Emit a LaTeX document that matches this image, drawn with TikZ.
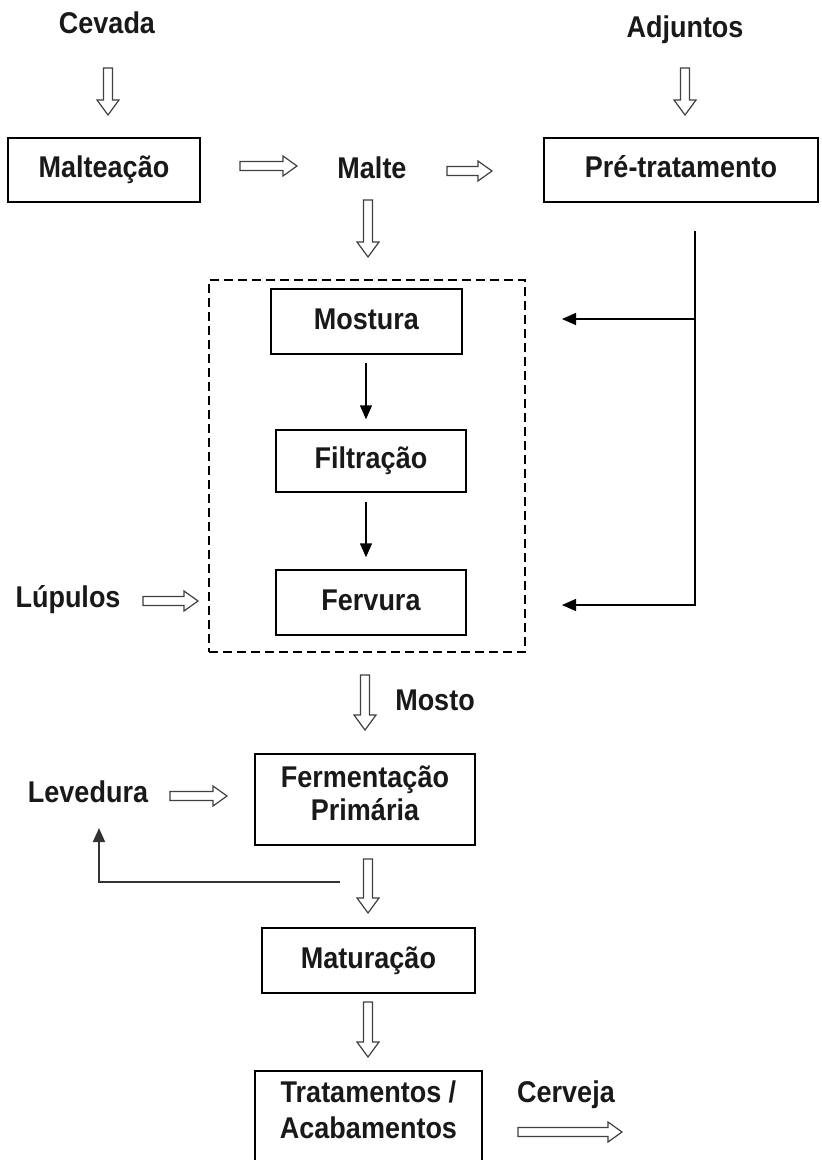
\documentclass[tikz,border=0pt]{standalone}
\usepackage{fontspec}
\setmainfont{Liberation Sans}[FakeStretch=0.9]
\usetikzlibrary{arrows.meta,calc}
\newcommand\hollowdn[2]{\draw[hollow] ($(#1)+(-4.5,0)$) -- ($(#1)+(4.5,0)$) -- ($(#2)+(4.5,-15)$) -- ($(#2)+(11,-15)$) -- (#2) -- ($(#2)+(-11,-15)$) -- ($(#2)+(-4.5,-15)$) -- cycle;}
\newcommand\hollowrt[2]{\draw[hollow] ($(#1)+(0,-4.5)$) -- ($(#2)+(-14,-4.5)$) -- ($(#2)+(-14,-10)$) -- (#2) -- ($(#2)+(-14,10)$) -- ($(#2)+(-14,4.5)$) -- ($(#1)+(0,4.5)$) -- cycle;}
\begin{document}
\begin{tikzpicture}[x=1pt,y=-1pt,
  every node/.style={font=\bfseries\fontsize{30}{33}\selectfont, text=black!90},
  box/.style={draw=black, line width=1.5pt, inner sep=0pt, text height=21pt, text depth=6pt, align=center},
  boxtwo/.style={draw=black, line width=1.5pt, inner xsep=0pt, inner ysep=10pt, align=center, anchor=north},
  lbl/.style={anchor=base, inner sep=0pt},
  hollow/.style={draw=black!75, line width=1.2pt, fill=white, line join=miter},
  thinarrow/.style={draw=black, line width=1.5pt, -{Triangle[width=12pt,length=14pt]}},
  mashbox/.style={draw=black, line width=1.5pt, dash pattern=on 9pt off 5pt, inner sep=0pt},
]
\clip (0,0) rectangle (822,1160);
\fill[white] (0,0) rectangle (822,1160);

% boxes
\node[box, minimum width=192, minimum height=64] (malt) at (104,170) {Malteação};
\node[box, minimum width=274, minimum height=64] (pre) at (681,170) {Pré-tratamento};
\node[mashbox, minimum width=316, minimum height=372] (mash) at (367,466) {};
\node[box, minimum width=191, minimum height=65] (most) at (366.5,321.5) {Mostura};
\node[box, minimum width=190, minimum height=62] (filt) at (371,461) {Filtração};
\node[box, minimum width=190, minimum height=65] (ferv) at (371,602.5) {Fervura};
\node[boxtwo, minimum width=220] (ferm) at (365,753) {\rule{0pt}{24pt}Fermentação\\Primária\rule[-14pt]{0pt}{14pt}};
\node[box, minimum width=213, minimum height=65] (matu) at (368.5,960.5) {Maturação};
\node[boxtwo, minimum width=227] (trat) at (368.5,1070) {\rule{0pt}{22pt}Tratamentos /\\[3pt]Acabamentos\rule[-30pt]{0pt}{30pt}};

% labels
\node[lbl] (cevada) at (107,33) {Cevada};
\node[lbl] (adj) at (685,37) {Adjuntos};
\node[lbl] (malte) at (372,178) {Malte};
\node[lbl] (lup) at (68,607) {Lúpulos};
\node[lbl] (mosto) at (435,710) {Mosto};
\node[lbl] (lev) at (88,802) {Levedura};
\node[lbl] (cerv) at (566,1102) {Cerveja};

% hollow arrows
\coordinate (c1) at (108,68);  \coordinate (c2) at (108,115);
\coordinate (d1) at (685,68);  \coordinate (d2) at (685,115);
\coordinate (m1) at (240,166); \coordinate (m2) at (297,166);
\coordinate (p1) at (447,171); \coordinate (p2) at (492,171);
\coordinate (md1) at (368,200); \coordinate (md2) at (368,257);
\coordinate (l1) at (143,601); \coordinate (l2) at (198,601);
\coordinate (o1) at (365,675); \coordinate (o2) at (365,730);
\coordinate (v1) at (170,796); \coordinate (v2) at (227,796);
\coordinate (f1) at (368,859); \coordinate (f2) at (368,913);
\coordinate (t1) at (368,1002); \coordinate (t2) at (368,1057);
\coordinate (b1) at (518,1132); \coordinate (b2) at (622,1132);
\hollowdn{c1}{c2}
\hollowdn{d1}{d2}
\hollowrt{m1}{m2}
\hollowrt{p1}{p2}
\hollowdn{md1}{md2}
\hollowrt{l1}{l2}
\hollowdn{o1}{o2}
\hollowrt{v1}{v2}
\hollowdn{f1}{f2}
\hollowdn{t1}{t2}
\hollowrt{b1}{b2}

% thin arrows inside the mash box
\draw[thinarrow, shorten <=8pt, shorten >=10pt] ($(most.south)+(-0.5,0)$) -- ($(most.south |- filt.north)+(-0.5,0)$);
\draw[thinarrow, shorten <=9pt, shorten >=12pt] ($(most.south |- filt.south)+(-0.5,0)$) -- ($(most.south |- ferv.north)+(-0.5,0)$);

% adjunct line on the right
\coordinate (r0) at (695,231);
\coordinate (r1) at (695,319);
\coordinate (r2) at (695,605);
\coordinate (e1) at (562,319);
\coordinate (e2) at (562,605);
\draw[thinarrow] (r0) -- (r2) -- (e2);
\draw[thinarrow] (r1) -- (e1);

% yeast recycle
\coordinate (y0) at (340,882);
\coordinate (y1) at (99,828);
\draw[thinarrow, draw=black!80] (y0) -| (y1);
\end{tikzpicture}
\end{document}
